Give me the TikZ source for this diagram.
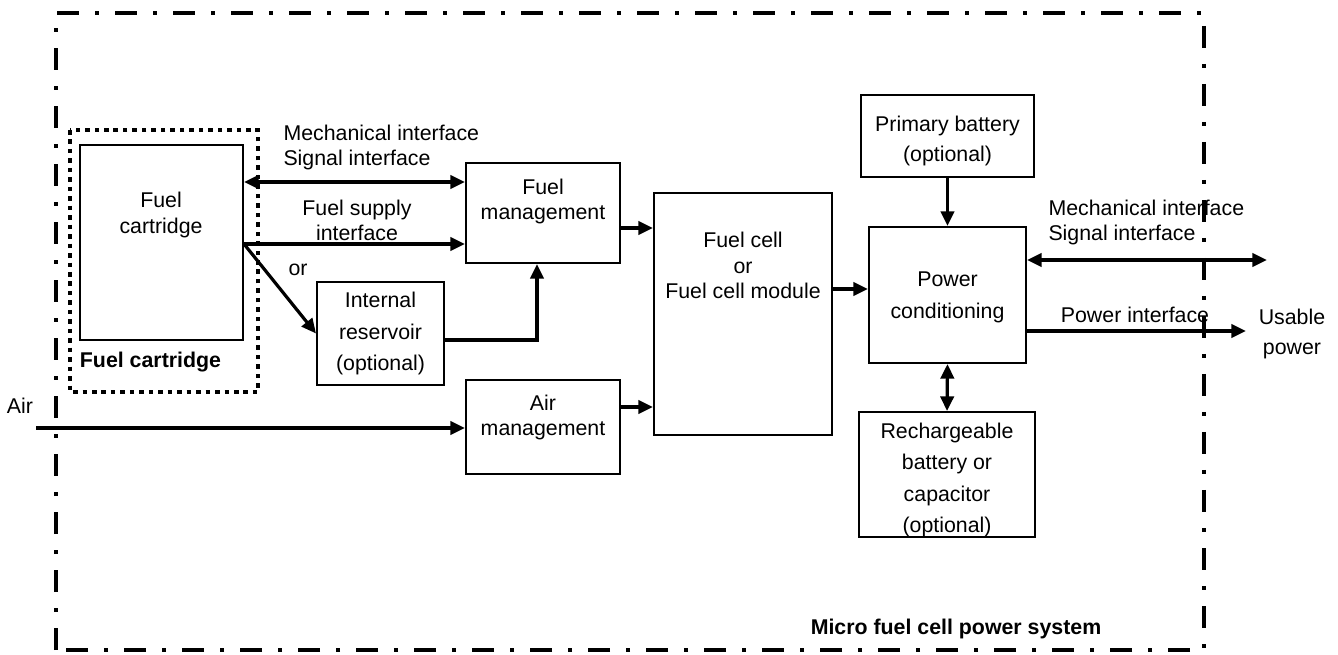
\documentclass[tikz,border=0pt]{standalone}
\usepackage{fontspec}
\setmainfont{Liberation Sans}
\usetikzlibrary{arrows.meta}

\tikzset{every picture/.style={line width=0.75pt}}
\tikzset{
  box/.style={draw, line width=1.5pt, inner sep=0pt, align=center},
  txt/.style={inner sep=0pt, align=center},
  wide/.style={font=\fontsize{16}{23.5}\selectfont},
  bold/.style={font=\fontsize{16}{19}\selectfont\bfseries},
  arr/.style={line width=2.4pt, -{Triangle[length=11pt,width=10pt]}},
  dblarr/.style={line width=2.4pt, {Triangle[length=11pt,width=10pt]}-{Triangle[length=11pt,width=10pt]}},
}

\begin{document}
\begin{tikzpicture}[x=0.75pt,y=0.75pt,yscale=-1,xscale=1,font=\fontsize{16}{19}\selectfont]
	\useasboundingbox (0,0) rectangle (1338,655);

	%Shape: system border
	\draw [line width=3pt, dash pattern=on 16.5pt off 12pt on 3pt off 12pt] (56,650) -- (56,13) -- (1204,13) -- (1204,650) -- cycle ;
	\node [bold, inner sep=0pt] (systxt) at (956,629) {Micro fuel cell power system};

	%Shape: cartridge dotted outline
	\draw [line width=3.4pt, dash pattern=on 3.4pt off 3.7pt] (70,130) rectangle (258,392) ;
	\node [bold, inner sep=0pt] (cartname) at (150.5,362) {Fuel cartridge};

	%Boxes
	\node [box, minimum width=122.25pt, minimum height=146.25pt] (cart) at (161.5,242.5) {};
	\node [txt] (carttxt) at (161,215) {Fuel\\cartridge};

	\node [box, minimum width=115.5pt, minimum height=75pt] (fmgmt) at (543,213) {};
	\node [txt] (fmgmttxt) at (543,201.5) {Fuel\\management};

	\node [box, wide, minimum width=95.25pt, minimum height=77.25pt] (res) at (380.5,333.5) {Internal\\reservoir\\(optional)};

	\node [box, minimum width=115.5pt, minimum height=70.5pt] (amgmt) at (543,427) {};
	\node [txt] (amgmttxt) at (543,417.5) {Air\\management};

	\node [box, minimum width=133.5pt, minimum height=181.5pt] (fcell) at (743,314) {};
	\node [txt] (fcelltxt) at (743,265.5) {Fuel cell\\or\\Fuel cell module};

	\node [box, minimum width=117.75pt, minimum height=102pt] (pc) at (947.5,295) {};
	\node [txt, wide] (pctxt) at (947.5,297.5) {Power\\conditioning};

	\node [box, minimum width=129.75pt, minimum height=61.5pt] (pb) at (947.5,136) {};
	\node [txt, font=\fontsize{16}{22.5}\selectfont] (pbtxt) at (947.5,140.5) {Primary battery\\(optional)};

	\node [box, minimum width=132pt, minimum height=93.75pt] (rb) at (947,474.5) {};
	\node [txt, wide] (rbtxt) at (947,480) {Rechargeable\\battery or\\capacitor\\(optional)};

	%Free texts
	\node [txt, align=left, anchor=west] (mechin) at (283,147.5) {Mechanical interface\\Signal interface};
	\node [txt] (supplytxt) at (357,220.5) {Fuel supply\\interface};
	\node [txt] (ortxt) at (298,270) {or};
	\node [txt] (airtxt) at (20,406) {Air};
	\node [txt, align=left, anchor=west] (mechout) at (1048,222.5) {Mechanical interface\\Signal interface};
	\node [txt] (pwrtxt) at (1135,315) {Power interface};
	\node [txt, font=\fontsize{16}{22.5}\selectfont] (usetxt) at (1292,334) {Usable\\power};

	%Connector levels
	\coordinate (sigin) at (0,182);
	\coordinate (supply) at (0,244);
	\coordinate (resout) at (537,340);
	\coordinate (fcin1) at (0,228);
	\coordinate (fcin2) at (0,407);
	\coordinate (airin) at (36,428);
	\coordinate (fcout) at (0,289);
	\coordinate (sigout) at (1267,260);
	\coordinate (pwrout) at (1246,331);

	%Arrows
	\draw [dblarr] (cart.east |- sigin) -- (fmgmt.west |- sigin) ;
	\draw [arr] (cart.east |- supply) -- (fmgmt.west |- supply) ;
	\draw [arr] (cart.east |- supply) -- (res.west) ;
	\draw [arr] (res.east |- resout) -| (fmgmt.south -| resout) ;
	\draw [arr] (fmgmt.east |- fcin1) -- (fcell.west |- fcin1) ;
	\draw [arr] (amgmt.east |- fcin2) -- (fcell.west |- fcin2) ;
	\draw [arr] (airin) -- (amgmt.west |- airin) ;
	\draw [arr] (fcell.east |- fcout) -- (pc.west |- fcout) ;
	\draw [arr] (pb.south) -- (pc.north) ;
	\draw [dblarr] (pc.south) -- (rb.north) ;
	\draw [dblarr] (pc.east |- sigout) -- (sigout) ;
	\draw [arr] (pc.east |- pwrout) -- (pwrout) ;

\end{tikzpicture}
\end{document}
